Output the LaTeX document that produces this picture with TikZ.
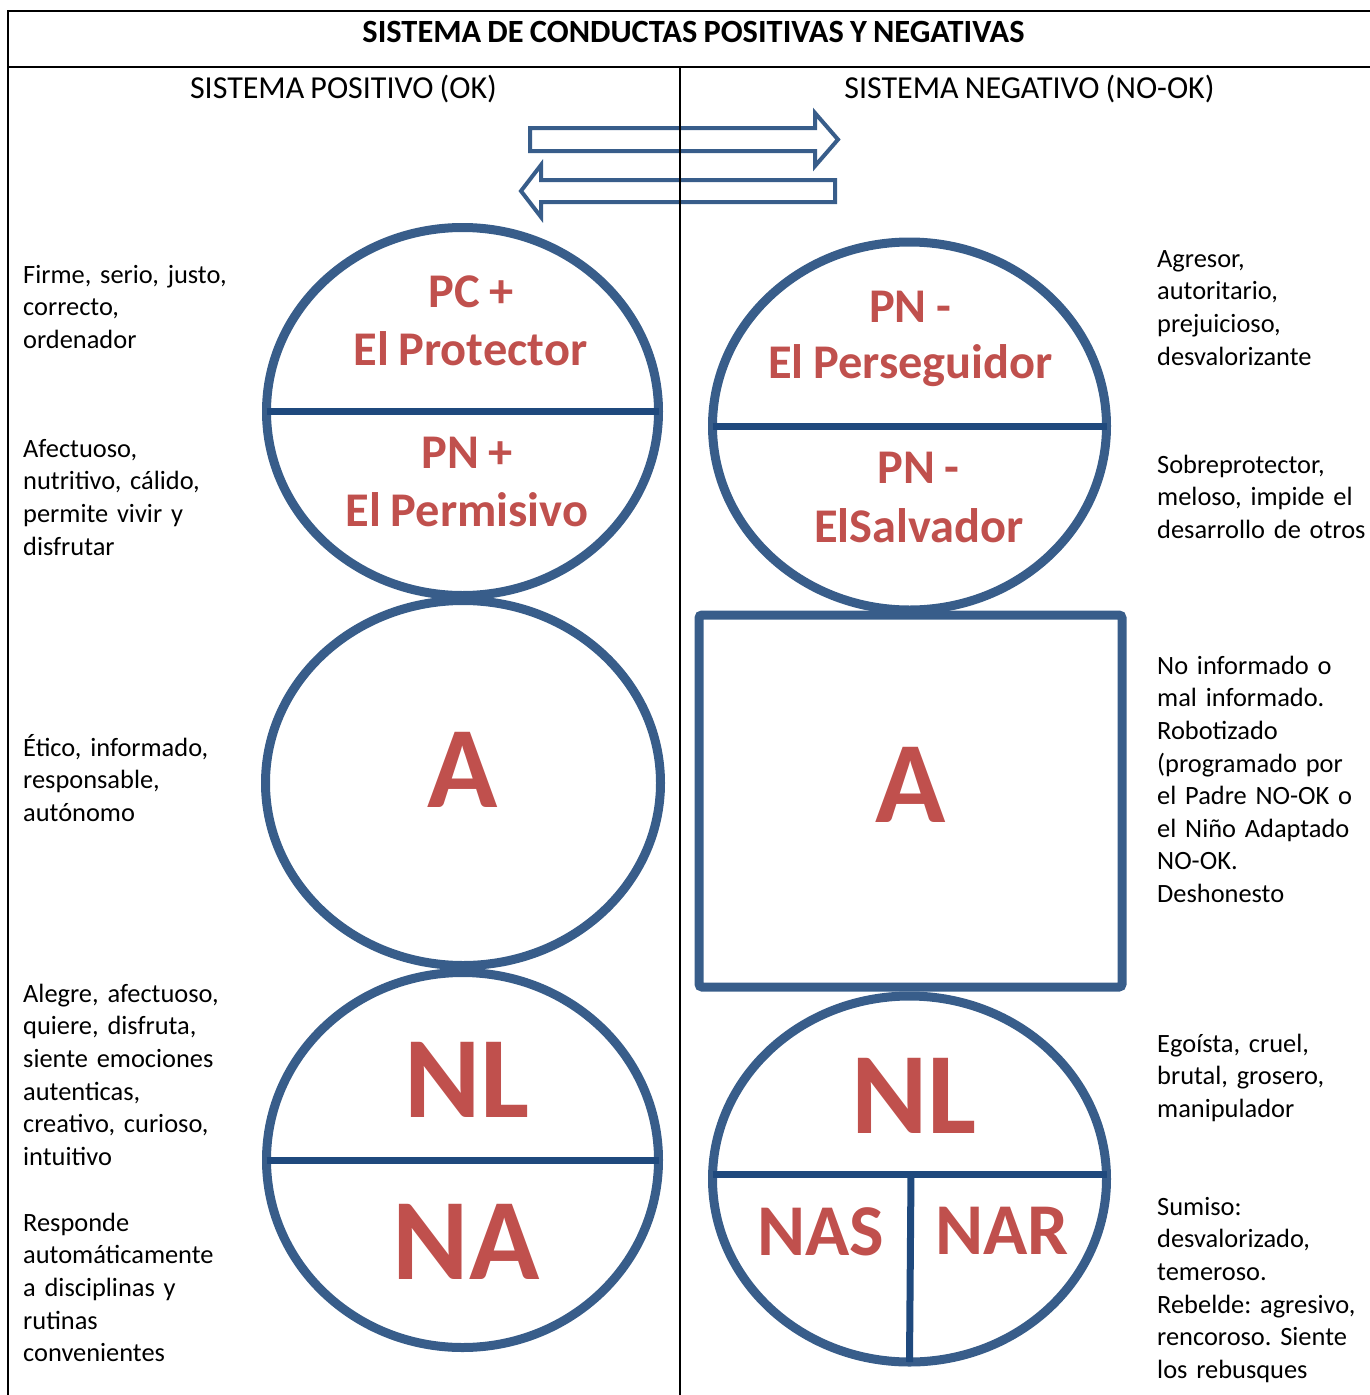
\documentclass[tikz,border=0pt]{standalone}
\usepackage{fontspec}
\setmainfont{Carlito}[WordSpace=0.85]
\usetikzlibrary{shapes.geometric}
\definecolor{ringblue}{RGB}{56,93,138}
\definecolor{splitblue}{RGB}{31,73,125}
\definecolor{egored}{RGB}{192,80,77}
\frenchspacing
\begin{document}
\begin{tikzpicture}[x=1pt,y=-1pt,
  ring/.style={ellipse, draw=ringblue, line width=9pt, inner sep=0pt, outer sep=0pt},
  frame/.style={rectangle, draw=ringblue, line width=9pt, inner sep=0pt, outer sep=0pt, rounded corners=3pt},
  split/.style={draw=splitblue, line width=7pt},
  egolabel/.style={text=egored, font=\bfseries\fontsize{48.4}{56}\selectfont, anchor=base, inner sep=0pt},
  biglabel/.style={text=egored, font=\bfseries\fontsize{116}{130}\selectfont, anchor=base, inner sep=0pt},
  sublabel/.style={text=egored, font=\bfseries\fontsize{73}{86}\selectfont, anchor=base, inner sep=0pt},
  note/.style={font=\fontsize{26.4}{32.6}\selectfont, text width=250pt, align=left, anchor=north west, inner sep=0pt},
  head/.style={font=\fontsize{32}{38}\selectfont, anchor=base, inner sep=0pt},
  grid/.style={draw=black, line width=2pt},
  swap/.style={draw=ringblue, line width=4pt, fill=white, line join=miter}
]
\useasboundingbox (0,0) rectangle (1370,1395);

% exchange arrows between the two systems
\draw[swap] (530,128) -- (815,128) -- (815,113) -- (838,139.5) -- (815,166) -- (815,151) -- (530,151) -- cycle;
\draw[swap] (835,180) -- (541,180) -- (541,165) -- (521,191) -- (541,217) -- (541,202) -- (835,202) -- cycle;

% table rules
\draw[grid] (8,11) -- (1372,11);
\draw[grid] (8,67) -- (1372,67);
\draw[grid] (8,10) -- (8,1396);
\draw[grid] (680,67) -- (680,1396);

% headings
\node[head, font=\bfseries\fontsize{32.4}{38}\selectfont] (title) at (693.5,42) {SISTEMA DE CONDUCTAS POSITIVAS Y NEGATIVAS};
\node[head] (posh) at (343.5,98) {SISTEMA POSITIVO (OK)};
\node[head] (negh) at (1029.5,98) {SISTEMA NEGATIVO (NO-OK)};

% positive system
\node[ring, minimum width=392pt, minimum height=368pt] (pp) at (462.5,411.5) {};
\draw[split] (pp.west) -- (pp.east);
\node[ring, minimum width=395pt, minimum height=365pt] (pa) at (463,783) {};
\node[ring, minimum width=392pt, minimum height=375pt] (pn) at (462.5,1160) {};
\draw[split] (pn.west) -- (pn.east);

\node[egolabel] (pc) at (471,307) {PC +};
\node[egolabel] (pcname) at (470.5,365) {El Protector};
\node[egolabel] (pnp) at (467,468) {PN +};
\node[egolabel] (pnpname) at (467,526) {El Permisivo};
\node[biglabel] (aok) at (463,807) {A};
\node[biglabel] (nlok) at (467,1117) {NL};
\node[biglabel] (naok) at (466,1279) {NA};

% negative system
\node[ring, minimum width=394pt, minimum height=368pt] (np) at (909.5,426) {};
\draw[split] (np.west) -- (np.east);
\node[frame, minimum width=423pt, minimum height=372pt] (na) at (910.5,801) {};
\node[ring, minimum width=394pt, minimum height=366pt] (nn) at (909.5,1179) {};
\draw[split] ([yshift=5pt]nn.west) -- ([yshift=5pt]nn.east);
\draw[split] ([yshift=5pt,xshift=1.5pt]nn.center) -- (nn.south);

\node[egolabel] (pnm) at (910,322) {PN -};
\node[egolabel] (pnmname) at (910.5,378) {El Perseguidor};
\node[egolabel] (pns) at (918.5,483) {PN -};
\node[egolabel] (pnsname) at (919,542) {ElSalvador};
\node[biglabel] (anok) at (911,822) {A};
\node[biglabel] (nlnok) at (914,1133) {NL};
\node[sublabel] (nas) at (821,1255) {NAS};
\node[sublabel] (nar) at (1002,1254) {NAR};

% descriptions, positive side
\node[note] (d1) at (23,260.2) {\strut Firme, serio, justo,\\correcto,\\ordenador};
\node[note] (d2) at (23,434.2) {\strut Afectuoso,\\nutritivo, cálido,\\permite vivir y\\disfrutar};
\node[note] (d3) at (23,733.2) {\strut Ético, informado,\\responsable,\\autónomo};
\node[note] (d4) at (23,979.2) {\strut Alegre, afectuoso,\\quiere, disfruta,\\siente emociones\\autenticas,\\creativo, curioso,\\intuitivo};
\node[note] (d5) at (23,1208.2) {\strut Responde\\automáticamente\\a disciplinas y\\rutinas\\convenientes};

% descriptions, negative side
\node[note] (e1) at (1157,244.2) {\strut Agresor,\\autoritario,\\prejuicioso,\\desvalorizante};
\node[note] (e2) at (1157,450.2) {\strut Sobreprotector,\\meloso, impide el\\desarrollo de otros};
\node[note] (e3) at (1157,651.2) {\strut No informado o\\mal informado.\\Robotizado\\(programado por\\el Padre NO-OK o\\el Niño Adaptado\\NO-OK.\\Deshonesto};
\node[note] (e4) at (1157,1029.2) {\strut Egoísta, cruel,\\brutal, grosero,\\manipulador};
\node[note] (e5) at (1157,1192.2) {\strut Sumiso:\\desvalorizado,\\temeroso.\\Rebelde: agresivo,\\rencoroso. Siente\\los rebusques};
\end{tikzpicture}
\end{document}
